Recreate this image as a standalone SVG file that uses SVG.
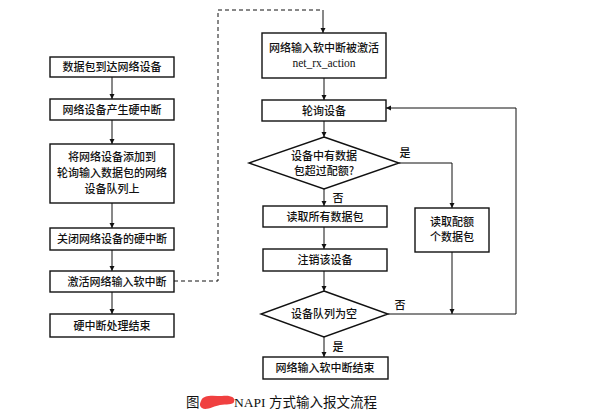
<svg xmlns="http://www.w3.org/2000/svg" width="597" height="414" viewBox="0 0 597 414">
<defs>
<marker id="ah" viewBox="0 0 10 10" refX="10" refY="5" markerWidth="5" markerHeight="7" orient="auto" markerUnits="userSpaceOnUse"><path d="M0,0 L10,5 L0,10 Z" fill="#111"/></marker>
</defs>
<style>
.b{fill:#fff;stroke:#111;stroke-width:1.4}
.t{font-family:"Noto Sans CJK SC","Noto Sans",sans-serif;font-size:11px;font-weight:500;fill:#111;text-anchor:middle}
.c{fill:none;stroke:#111;stroke-width:1}
.d{fill:none;stroke:#111;stroke-width:1;stroke-dasharray:4,3}
.cap{font-family:"Liberation Serif","Noto Sans CJK SC",serif;font-size:13.5px;fill:#111}
</style>
<rect width="597" height="414" fill="#fff"/>
<g id="connectors">
<path class="c" d="M112,77 V99" marker-end="url(#ah)"/>
<path class="c" d="M112,120 V144" marker-end="url(#ah)"/>
<path class="c" d="M112,203 V228" marker-end="url(#ah)"/>
<path class="c" d="M112,250 V271" marker-end="url(#ah)"/>
<path class="c" d="M112,292 V314" marker-end="url(#ah)"/>
<path class="d" d="M174,281 H218 V10 H323"/>
<path class="c" d="M323,10 V33" marker-end="url(#ah)"/>
<path class="c" d="M324,78 V100" marker-end="url(#ah)"/>
<path class="c" d="M324,121 V137" marker-end="url(#ah)"/>
<path class="c" d="M324,189 V206" marker-end="url(#ah)"/>
<path class="c" d="M324,227 V249" marker-end="url(#ah)"/>
<path class="c" d="M324,271 V291" marker-end="url(#ah)"/>
<path class="c" d="M324,337 V357" marker-end="url(#ah)"/>
<path class="c" d="M399,163 H452 V208" marker-end="url(#ah)"/>
<path class="c" d="M452,252 V314" marker-end="url(#ah)"/>
<path class="c" d="M388,314 H516 V108 H386" marker-end="url(#ah)"/>
<text class="t" x="405" y="157">是</text>
<text class="t" x="338" y="202">否</text>
<text class="t" x="400" y="309">否</text>
<text class="t" x="338" y="351">是</text>
</g>
<g id="n1"><rect class="b" x="50" y="57" width="124" height="20"/><text class="t" x="112" y="71">数据包到达网络设备</text></g>
<g id="n2"><rect class="b" x="50" y="99" width="124" height="21"/><text class="t" x="112" y="114">网络设备产生硬中断</text></g>
<g id="n3"><rect class="b" x="50" y="144" width="124" height="59"/><text class="t" x="112" y="161">将网络设备添加到</text><text class="t" x="112" y="177">轮询输入数据包的网络</text><text class="t" x="112" y="193">设备队列上</text></g>
<g id="n4"><rect class="b" x="50" y="228" width="124" height="22"/><text class="t" x="112" y="243">关闭网络设备的硬中断</text></g>
<g id="n5"><rect class="b" x="50" y="271" width="124" height="21"/><text class="t" x="117" y="286">激活网络输入软中断</text></g>
<g id="n6"><rect class="b" x="50" y="314" width="124" height="23"/><text class="t" x="112" y="330">硬中断处理结束</text></g>
<g id="n7"><rect class="b" x="262" y="33" width="124" height="45"/><text class="t" x="324" y="52">网络输入软中断被激活</text><text class="t" x="324" y="67" style="font-family:'Liberation Serif',serif;font-size:11.5px">net_rx_action</text></g>
<g id="n8"><rect class="b" x="262" y="100" width="124" height="21"/><text class="t" x="324" y="115">轮询设备</text></g>
<g id="n9"><polygon class="b" points="324,137 399,163 324,189 249,163"/><text class="t" x="324" y="160">设备中有数据</text><text class="t" x="324" y="175">包超过配额?</text></g>
<g id="n10"><rect class="b" x="263" y="206" width="124" height="21"/><text class="t" x="325" y="221">读取所有数据包</text></g>
<g id="n11"><rect class="b" x="263" y="249" width="124" height="22"/><text class="t" x="325" y="264">注销该设备</text></g>
<g id="n12"><polygon class="b" points="324,291 388,314 324,337 261,314"/><text class="t" x="324" y="318">设备队列为空</text></g>
<g id="n13"><rect class="b" x="263" y="357" width="125" height="22"/><text class="t" x="325" y="372">网络输入软中断结束</text></g>
<g id="n14"><rect class="b" x="415" y="208" width="74" height="44"/><text class="t" x="452" y="226">读取配额</text><text class="t" x="452" y="241">个数据包</text></g>
<g id="caption">
<text class="cap" x="186" y="407">图</text>
<path d="M201,401 C203,394 214,396 222,396 C230,395 236,397 234,402 C233,405 226,404 220,405 C214,406 206,411 202,408 C199,406 200,403 201,401 Z" fill="#f04040"/>
<text class="cap" x="234" y="407">NAPI 方式输入报文流程</text>
</g>
</svg>
